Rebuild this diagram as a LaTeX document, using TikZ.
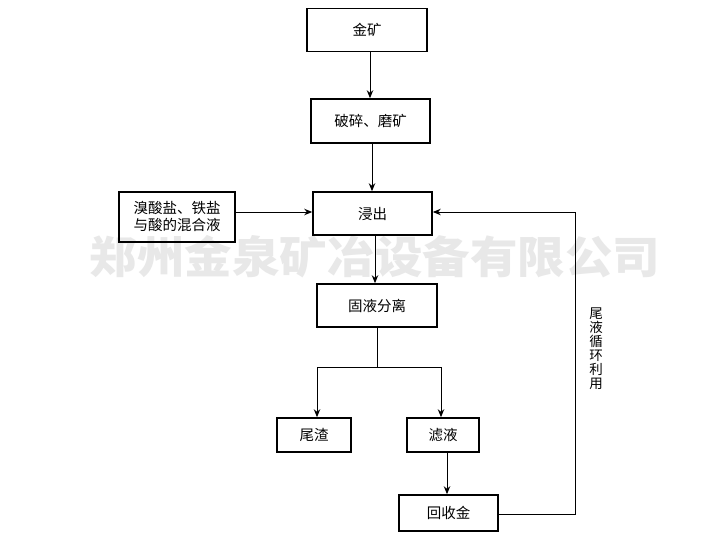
\documentclass[tikz,border=0pt]{standalone}
\usepackage{fontspec}
\newfontfamily\cjk{Noto Sans CJK SC}
\usetikzlibrary{arrows.meta}
\begin{document}
\begin{tikzpicture}[x=1pt,y=-1pt,
  box/.style={draw=black,line width=1.6pt,minimum width=#1,inner sep=0pt,font=\cjk\fontsize{14.5}{17}\selectfont},
  conn/.style={line width=0.9pt},
  arr/.style={conn,-{Stealth[length=8pt,width=6.5pt]}},
  lbl/.style={font=\cjk\fontsize{13.5}{14}\selectfont,align=center,inner sep=0pt}]
\useasboundingbox (0,0) rectangle (720,540);
\fill[white] (0,0) rectangle (720,540);
% watermark
\node[font=\cjk\bfseries\fontsize{44}{44}\selectfont,text=black!9,draw=none,xscale=1.08,inner sep=0pt] (wm) at (375,257) {郑州金泉矿冶设备有限公司};
% boxes
\node[box=120pt,minimum height=43pt] (jk) at (367,30) {金矿};
\node[box=119pt,minimum height=44pt] (ps) at (370.5,121) {破碎、磨矿};
\node[box=119pt,minimum height=43pt] (jc) at (372.5,213.5) {浸出};
\node[box=116pt,minimum height=50pt,align=center] (xs) at (177,217) {溴酸盐、铁盐\\与酸的混合液};
\node[box=120pt,minimum height=43pt] (gy) at (377,305.5) {固液分离};
\node[box=74pt,minimum height=34pt] (wz) at (314,435) {尾渣};
\node[box=72pt,minimum height=34pt] (ly) at (443,435) {滤液};
\node[box=99pt,minimum height=36pt] (hs) at (448.5,513) {回收金};
\node[lbl] (wy) at (596,349) {尾\\液\\循\\环\\利\\用};
% connectors
\coordinate (br) at (377,367);
\coordinate (bl) at (317,367);
\coordinate (brr) at (441,367);
\coordinate (rb) at (575,514);
\coordinate (rt) at (575,212);
\draw[arr] (370,0|-jk.south) -- (370,0|-ps.north);
\draw[arr] (372,0|-ps.south) -- (372,0|-jc.north);
\draw[arr] (375,0|-jc.south) -- (375,0|-gy.north);
\draw[arr] (xs.east|-0,212) -- (jc.west|-0,212);
\draw[conn] (gy.south) -- (br);
\draw[conn] (bl) -- (brr);
\draw[arr] (bl) -- (bl|-wz.north);
\draw[arr] (brr) -- (brr|-ly.north);
\draw[arr] (447,0|-ly.south) -- (447,0|-hs.north);
\draw[conn] (hs.east|-rb) -- (rb) -- (rt);
\draw[arr] (rt) -- (jc.east|-rt);
\end{tikzpicture}
\end{document}
